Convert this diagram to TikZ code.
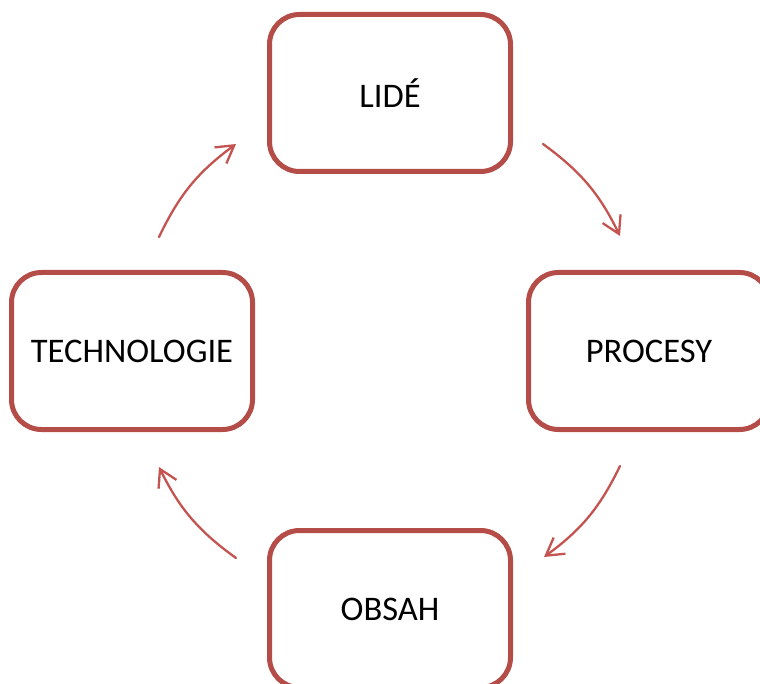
\documentclass[tikz,border=0pt]{standalone}
\usepackage{fontspec}
\setmainfont{Carlito}
\usepackage{xcolor}
\usetikzlibrary{arrows.meta}
\tikzset{>=latex}
\definecolor{boxred}{RGB}{180,76,72}
\definecolor{arrowred}{RGB}{196,84,80}

\begin{document}
\begin{tikzpicture}[x=1pt, y=1pt,
    pillar/.style={draw=boxred, line width=5pt, rounded corners=30pt, fill=white,
        minimum width=241pt, minimum height=157pt, inner sep=0pt,
        font=\fontsize{34.5}{41}\selectfont},
    cycarrow/.style={draw=arrowred, line width=2.3pt, line cap=round,
        -{Straight Barb[length=17pt, width=20pt]}}]

    \useasboundingbox (0,0) rectangle (760,-684);
    \clip (0,0) rectangle (760,-684);

    % the four boxes
    \node[pillar] (lide)    at (390,-93)  {LIDÉ};
    \node[pillar] (procesy) at (649,-351) {PROCESY};
    \node[pillar] (obsah)   at (390,-609) {OBSAH};
    \node[pillar] (tech)    at (132,-351) {TECHNOLOGIE};

    % arc ends
    \coordinate (a1) at (543,-144);  \coordinate (b1) at (620,-236);
    \coordinate (a2) at (620,-466);  \coordinate (b2) at (544,-557);
    \coordinate (a3) at (236,-558);  \coordinate (b3) at (159,-467);
    \coordinate (a4) at (159,-237);  \coordinate (b4) at (236,-144);

    \foreach \s/\e in {a1/b1, a2/b2, a3/b3, a4/b4}{
        \draw[cycarrow] (\s) to[bend left=14] (\e);
    }

\end{tikzpicture}
\end{document}
